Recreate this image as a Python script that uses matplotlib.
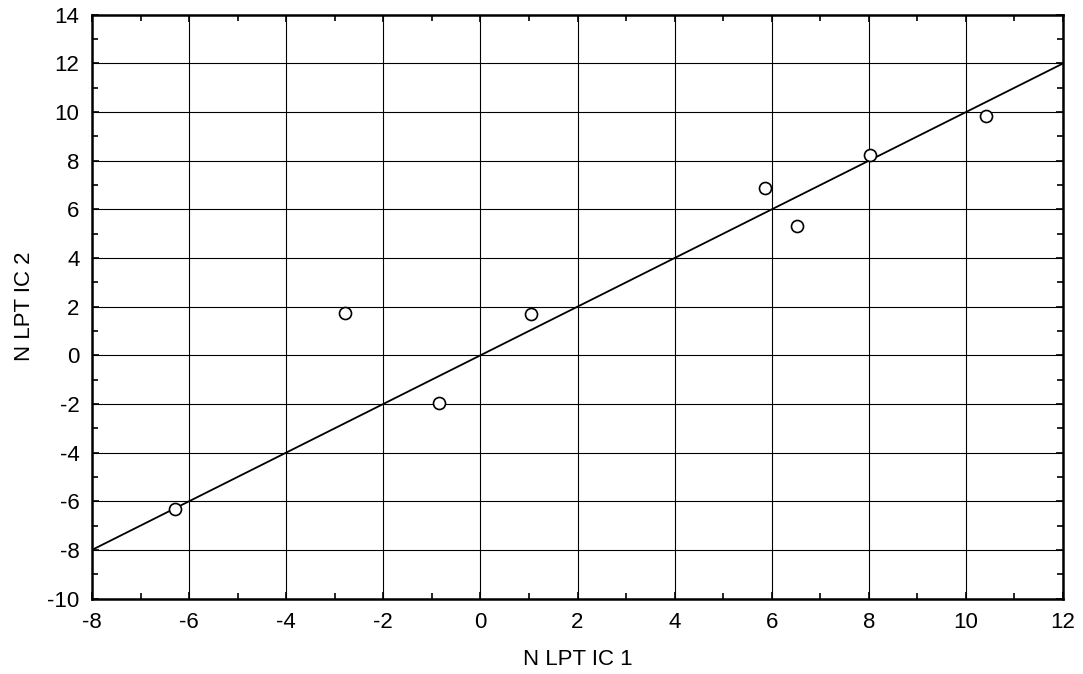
import matplotlib
matplotlib.use('Agg')
import matplotlib.pyplot as plt
from matplotlib.ticker import MultipleLocator

plt.rcParams['font.family'] = ['Liberation Sans', 'DejaVu Sans']
plt.rcParams['axes.unicode_minus'] = False

# measured values
ic1 = [-6.3, -2.78, -0.86, 1.04, 5.87, 6.53, 8.03, 10.41]
ic2 = [-6.3, 1.73, -1.97, 1.7, 6.88, 5.32, 8.23, 9.85]
line_x = [-8, 12]
line_y = [-8, 12]

fig = plt.figure(figsize=(10.83, 6.74), dpi=100)
ax = fig.add_axes([0.085, 0.112, 0.8965, 0.866])

ax.plot(line_x, line_y, color='black', lw=1.3, zorder=3)
ax.scatter(ic1, ic2, s=75, facecolors='white', edgecolors='black', linewidths=1.2, zorder=4)

ax.set_xlim(-8, 12)
ax.set_ylim(-10, 14)
ax.xaxis.set_major_locator(MultipleLocator(2))
ax.yaxis.set_major_locator(MultipleLocator(2))
ax.xaxis.set_minor_locator(MultipleLocator(1))
ax.yaxis.set_minor_locator(MultipleLocator(1))
ax.grid(True, which='major', color='black', lw=0.8)
ax.tick_params(which='both', direction='in', top=True, right=True, labelsize=16, width=1.2)
ax.tick_params(which='major', length=5)
ax.tick_params(axis='x', which='major', pad=10)
ax.tick_params(axis='y', which='major', pad=9)
ax.tick_params(which='minor', length=4)
for s in ax.spines.values():
    s.set_linewidth(1.8)

ax.set_xlabel('N LPT IC 1', fontsize=16, labelpad=11)
ax.set_ylabel('N LPT IC 2', fontsize=16, labelpad=9)

plt.savefig('out.png', dpi=100)
